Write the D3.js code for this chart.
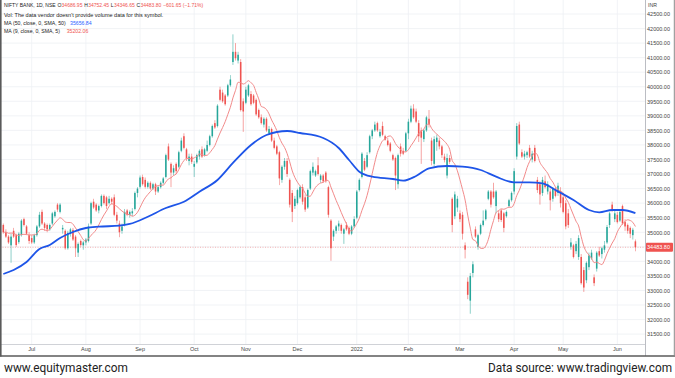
<!DOCTYPE html>
<html><head><meta charset="utf-8">
<script src="https://cdn.jsdelivr.net/npm/d3@7"></script>
<style>
html,body{margin:0;padding:0;background:#fff;}
svg{display:block;}
</style></head>
<body><svg id="chart" width="675" height="378"></svg>
<script>
const dates = [
"2021-06-16","2021-06-17","2021-06-18","2021-06-21","2021-06-22","2021-06-23","2021-06-24","2021-06-25","2021-06-28","2021-06-29","2021-06-30",
"2021-07-01","2021-07-02","2021-07-05","2021-07-06","2021-07-07","2021-07-08","2021-07-09","2021-07-12","2021-07-13","2021-07-14","2021-07-15","2021-07-16","2021-07-19","2021-07-20","2021-07-22","2021-07-23","2021-07-26","2021-07-27","2021-07-28","2021-07-29","2021-07-30",
"2021-08-02","2021-08-03","2021-08-04","2021-08-05","2021-08-06","2021-08-09","2021-08-10","2021-08-11","2021-08-12","2021-08-13","2021-08-16","2021-08-17","2021-08-18","2021-08-20","2021-08-23","2021-08-24","2021-08-25","2021-08-26","2021-08-27","2021-08-30","2021-08-31",
"2021-09-01","2021-09-02","2021-09-03","2021-09-06","2021-09-07","2021-09-08","2021-09-09","2021-09-13","2021-09-14","2021-09-15","2021-09-16","2021-09-17","2021-09-20","2021-09-21","2021-09-22","2021-09-23","2021-09-24","2021-09-27","2021-09-28","2021-09-29","2021-09-30",
"2021-10-01","2021-10-04","2021-10-05","2021-10-06","2021-10-07","2021-10-08","2021-10-11","2021-10-12","2021-10-13","2021-10-14","2021-10-18","2021-10-19","2021-10-20","2021-10-21","2021-10-22","2021-10-25","2021-10-26","2021-10-27","2021-10-28","2021-10-29",
"2021-11-01","2021-11-02","2021-11-03","2021-11-04","2021-11-08","2021-11-09","2021-11-10","2021-11-11","2021-11-12","2021-11-15","2021-11-16","2021-11-17","2021-11-18","2021-11-22","2021-11-23","2021-11-24","2021-11-25","2021-11-26","2021-11-29","2021-11-30",
"2021-12-01","2021-12-02","2021-12-03","2021-12-06","2021-12-07","2021-12-08","2021-12-09","2021-12-10","2021-12-13","2021-12-14","2021-12-15","2021-12-16","2021-12-17","2021-12-20","2021-12-21","2021-12-22","2021-12-23","2021-12-24","2021-12-27","2021-12-28","2021-12-29","2021-12-30","2021-12-31",
"2022-01-03","2022-01-04","2022-01-05","2022-01-06","2022-01-07","2022-01-10","2022-01-11","2022-01-12","2022-01-13","2022-01-14","2022-01-17","2022-01-18","2022-01-19","2022-01-20","2022-01-21","2022-01-24","2022-01-25","2022-01-27","2022-01-28","2022-01-31",
"2022-02-01","2022-02-02","2022-02-03","2022-02-04","2022-02-07","2022-02-08","2022-02-09","2022-02-10","2022-02-11","2022-02-14","2022-02-15","2022-02-16","2022-02-17","2022-02-18","2022-02-21","2022-02-22","2022-02-23","2022-02-24","2022-02-25","2022-02-28",
"2022-03-02","2022-03-03","2022-03-04","2022-03-07","2022-03-08","2022-03-09","2022-03-10","2022-03-11","2022-03-14","2022-03-15","2022-03-16","2022-03-17","2022-03-21","2022-03-22","2022-03-23","2022-03-24","2022-03-25","2022-03-28","2022-03-29","2022-03-30","2022-03-31",
"2022-04-01","2022-04-04","2022-04-05","2022-04-06","2022-04-07","2022-04-08","2022-04-11","2022-04-12","2022-04-13","2022-04-18","2022-04-19","2022-04-20","2022-04-21","2022-04-22","2022-04-25","2022-04-26","2022-04-27","2022-04-28","2022-04-29",
"2022-05-02","2022-05-04","2022-05-05","2022-05-06","2022-05-09","2022-05-10","2022-05-11","2022-05-12","2022-05-13","2022-05-16","2022-05-17","2022-05-18","2022-05-19","2022-05-20","2022-05-23","2022-05-24","2022-05-25","2022-05-26","2022-05-27","2022-05-30","2022-05-31",
"2022-06-01","2022-06-02","2022-06-03","2022-06-06","2022-06-07","2022-06-08","2022-06-09","2022-06-10"];

const open = [
35250,35000,34850,34550,35050,34900,34660,34900,35450,35200,34900,
34800,34650,34900,35200,35700,35300,35250,35100,35300,35550,35950,35700,35100,35050,34450,34950,35080,34850,34300,34700,34550,
34650,34700,35300,36050,35950,35750,35900,36250,36200,36000,36150,36200,35600,35300,35050,35250,35750,35600,35650,35800,36350,
36560,36900,36800,36560,36700,36500,36650,36400,36550,36700,36900,37950,37350,37050,37350,37250,37800,38300,37850,37450,37600,
37250,37400,37600,37850,37650,37800,38000,38300,38750,38650,39900,39800,39700,39700,40050,40850,41200,40900,40850,39500,
39450,39700,39750,39700,39550,39200,38950,38700,38900,38400,38550,38150,37950,37750,36800,37250,37450,36800,36350,35900,
36000,36200,36550,36200,35850,36500,37050,36950,37300,36800,36950,37050,36550,35400,34850,35050,35200,35250,34950,35250,35150,34950,35200,
35500,36450,36900,37450,37250,37750,38300,38500,38750,38300,38650,38300,38150,38050,37650,37550,36650,37950,37800,37800,
38400,38800,39250,39150,38750,38500,38200,38500,38900,38150,37350,38100,38150,37950,37600,36950,37550,36150,35550,35850,
35650,35600,34550,33300,32650,33600,35100,34500,34950,35250,35450,36150,36400,36400,35900,35650,35750,35650,35550,35900,36100,
36400,37600,38700,37750,37600,37650,37900,37500,37900,36800,36650,36350,36750,36400,36400,36150,36500,36350,36400,
36200,36000,35650,34500,34550,34350,34150,34150,33700,33350,33800,34100,33450,33750,34350,34250,34400,34650,35250,35950,35450,
35600,35400,35900,35350,35250,35150,34900,34686.95];

const high = [
35300,35100,34900,34950,35150,34950,35000,35450,35500,35250,35000,
34900,34950,35250,35700,35780,35350,35300,35300,35700,35750,36000,36000,35250,35100,35050,35150,35150,34900,34650,34750,34700,
34800,35300,36050,36150,36000,35950,36300,36300,36250,36250,36200,36300,35700,35400,35300,35800,35800,35750,35830,36400,36550,
36950,36980,36880,36750,36750,36700,36700,36600,36750,36900,37700,38050,37400,37300,37400,37800,38250,38400,37900,37700,37700,
37450,37700,37850,37950,37900,38150,38350,38700,38850,39400,40000,39900,39750,40100,40400,41800,41500,41200,40950,39600,
40000,40100,39850,39750,39600,39250,39050,38950,38950,38650,38600,38250,38000,37800,37300,37550,37550,36850,36450,36250,
36500,36600,36650,36300,36500,37150,37400,37150,37580,37000,37000,37100,36600,35450,35100,35250,35400,35300,35150,35350,35200,35250,35550,
36450,36850,37750,37550,37750,38350,38550,38800,38800,38550,38800,38350,38250,38100,37700,37600,37700,38050,37900,38450,
38900,39350,39400,39250,38850,38600,38550,39000,39200,38250,38300,38350,38250,38000,37700,37700,37650,36200,36400,36250,
35750,35700,34650,33450,33600,34000,35200,34950,35300,35750,35800,36450,36450,36700,36450,35750,35800,35700,35750,36150,36400,
37200,38750,38800,37850,37800,37800,38000,37800,38000,36900,36750,36900,36950,36750,36500,36550,36550,36700,36550,
36300,36100,35800,34800,34600,34700,34900,34250,33800,34000,34300,34400,33550,34350,34500,34500,34700,35250,35700,36050,35750,
35700,35750,35950,35450,35300,35200,35150,34752.45];

const low = [
34950,34800,34600,33950,34800,34500,34600,34850,35200,34900,34600,
34600,34600,34850,35150,35250,35050,35000,35050,35250,35500,35700,35650,34950,34400,34400,34850,34700,34150,34150,34500,34400,
34550,34650,35250,35800,35700,35650,35850,35950,35800,35950,35950,35550,35300,34830,34950,35200,35550,35500,35550,35750,36200,
36500,36600,36500,36500,36450,36450,36280,36350,36500,36650,36850,37450,36550,36950,37000,37200,37750,37850,37450,37300,37350,
36900,37350,37500,37550,37600,37750,37950,38250,38550,38600,39500,39450,39350,39650,40000,40750,40900,40800,39150,38450,
39400,39650,39350,39400,39000,38900,38700,38600,38450,38350,38100,37850,37650,36620,36700,37150,36900,35850,35350,35800,
35950,36150,35950,35700,35800,36450,36950,36900,36950,36700,36700,36700,35500,34020,34700,34950,35050,34950,34600,35050,34900,34900,35150,
35450,36400,36850,37100,37200,37700,38200,38450,38450,38250,38300,38150,37950,37750,37450,36450,36500,37600,37650,37750,
38200,38750,38900,38750,38100,37350,38100,38450,38600,37300,37250,37800,37850,37550,37400,36850,37350,35000,35450,35700,
35350,34750,34100,32700,32200,33450,34800,34400,34900,35200,35400,36100,35850,36150,35650,35350,35350,35000,35500,35850,36050,
36300,37500,38000,37550,37500,37550,37550,37400,37400,36350,35950,36250,36500,36300,35750,36050,36200,36250,35850,
35650,35100,35150,34400,34100,34250,34050,33200,32950,33250,33700,34050,33150,33650,34150,34100,34300,34600,35150,35700,35350,
35300,35350,35250,35050,34950,34800,34750,34346.65];

const close = [
35000,34850,34650,34850,34850,34560,34950,35400,35250,34950,34700,
34650,34900,35200,35600,35300,35150,35100,35250,35650,35700,35780,35950,35150,34450,34980,35100,34750,34450,34600,34560,34650,
34750,35200,36000,35850,35750,35900,36250,36000,35900,36150,36050,35600,35400,35000,35200,35700,35600,35700,35720,36350,36500,
36880,36650,36560,36700,36500,36650,36400,36550,36700,36850,37650,37500,37050,37200,37100,37750,38150,37900,37550,37600,37420,
37350,37650,37800,37600,37850,38000,38300,38650,38600,39350,39550,39500,39400,40050,40250,41200,40980,41100,39200,39150,
39900,40050,39400,39450,39050,38950,38750,38900,38500,38550,38150,37900,37700,36850,37250,37450,37000,35950,35700,36150,
36450,36550,36050,35780,36450,37100,37250,37100,37000,36950,36750,36750,35600,34450,35050,35200,35300,35050,35100,35100,34950,35200,35450,
36400,36800,37700,37150,37650,38300,38500,38700,38500,38450,38350,38180,38000,37800,37500,36950,37650,37700,37700,38400,
38800,39250,38950,38800,38300,38250,38500,38950,38700,37450,38200,38250,37950,37650,37480,37550,37420,35250,36300,36150,
35450,34950,34400,32850,33500,33900,34850,34900,35250,35400,35750,36400,35950,36200,36400,35450,35420,35150,35700,36100,36350,
37100,38650,38050,37600,37700,37750,37600,37700,37450,36450,36300,36800,36550,36650,36100,36500,36250,36600,36000,
35700,35200,35250,34650,34150,34600,34800,33250,33100,33950,34200,34300,33250,34300,34200,34450,34550,35180,35650,35780,35650,
35350,35700,35300,35200,35050,34950,35085.45,34483.80];

// closes of the 8 sessions before the first visible candle (for the 9-day SMA)
const priorCloses = [34700,35000,34800,34900,35050,35150,35100,35200];

// 50-day SMA
const ma50Dates = ["2021-06-16","2021-06-22","2021-06-29","2021-07-06","2021-07-12","2021-07-16","2021-07-26","2021-08-02","2021-08-09","2021-08-20","2021-08-26","2021-09-06","2021-09-16","2021-09-27","2021-10-05","2021-10-14","2021-10-25","2021-11-03","2021-11-12","2021-11-25","2021-12-02","2021-12-15","2021-12-23","2021-12-29","2022-01-04","2022-01-11","2022-01-21","2022-01-28","2022-02-04","2022-02-11","2022-02-22","2022-03-03","2022-03-14","2022-03-23","2022-04-01","2022-04-11","2022-04-20","2022-04-27","2022-05-09","2022-05-17","2022-05-23","2022-05-30","2022-06-03","2022-06-10"];
const ma50Values = [33566,33703,33978,34424,34562,34803,35009,35146,35191,35225,35284,35534,35833,36050,36394,36796,37380,37998,38342,38479,38411,38239,37895,37483,37081,36909,36830,36772,36933,37198,37277,37253,37139,36909,36717,36717,36682,36452,36108,35765,35686,35765,35765,35656.84];

const priceTicks = [31500,32000,32500,33000,33500,34000,34500,35000,35500,36000,36500,37000,37500,38000,38500,39000,39500,40000,40500,41000,41500,42000,42500];
const monthTickDates = ["2021-07-01","2021-08-02","2021-09-01","2021-10-01","2021-11-01","2021-12-01","2022-01-03","2022-02-01","2022-03-02","2022-04-01","2022-05-02","2022-06-01"];
const monthTickLabels = ["Jul","Aug","Sep","Oct","Nov","Dec","2022","Feb","Mar","Apr","May","Jun"];

const legendTitle = "NIFTY BANK, 1D, NSE";
const ohlcKeys = ["O","H","L","C"];
const ohlcLast = ["34686.95","34752.45","34346.65","34483.80"];
const lastChange = "\u2212601.65 (\u22121.71%)";
const ma50Last = "35656.84";
const ma9Last = "35202.06";

// ---------------- drawing ----------------
const W = 675, H = 378;
const plotRight = 645, plotBottom = 344;
const UP = "#26a69a", DOWN = "#ef5350";
const FONT = "'Liberation Sans', Arial, sans-serif";

const svg = d3.select("#chart");
svg.append("rect").attr("width", W).attr("height", H).attr("fill", "#fff");

const x = d3.scaleBand().domain(dates).range([2.546, 636.17]).paddingInner(0.4).paddingOuter(0);
const cx = d => x(d) + x.bandwidth() / 2;
const y = d3.scaleLinear().domain([31500, 42500]).range([334.1, 14]);

// grid
const grid = svg.append("g");
grid.selectAll("line.h").data(priceTicks).join("line")
  .attr("x1", 0).attr("x2", plotRight).attr("y1", d => y(d)).attr("y2", d => y(d))
  .attr("stroke", "#eef0f4").attr("stroke-width", 0.8);
grid.selectAll("line.v").data(monthTickDates).join("line")
  .attr("x1", d => cx(d)).attr("x2", d => cx(d)).attr("y1", 0).attr("y2", plotBottom)
  .attr("stroke", "#eef0f4").attr("stroke-width", 0.8);

svg.append("clipPath").attr("id", "clip").append("rect")
  .attr("x", 0).attr("y", 0).attr("width", plotRight).attr("height", plotBottom);
const plot = svg.append("g").attr("clip-path", "url(#clip)");

// last price dotted line
plot.append("line").attr("x1", 0).attr("x2", plotRight)
  .attr("y1", y(close[close.length - 1])).attr("y2", y(close[close.length - 1]))
  .attr("stroke", DOWN).attr("stroke-width", 0.7).attr("stroke-dasharray", "1,1.5").attr("opacity", 0.6);

// candles
const candles = dates.map((d, i) => ({d, o: open[i], h: high[i], l: low[i], c: close[i]}));
const cg = plot.append("g");
cg.selectAll("line").data(candles).join("line")
  .attr("x1", d => cx(d.d)).attr("x2", d => cx(d.d))
  .attr("y1", d => y(d.h)).attr("y2", d => y(d.l))
  .attr("stroke", d => d.c >= d.o ? UP : DOWN).attr("stroke-width", 0.7).attr("opacity", 0.75);
cg.selectAll("rect").data(candles).join("rect")
  .attr("x", d => x(d.d)).attr("width", x.bandwidth())
  .attr("y", d => Math.min(y(d.o), y(d.c)))
  .attr("height", d => Math.max(0.8, Math.abs(y(d.o) - y(d.c))))
  .attr("fill", d => d.c >= d.o ? UP : DOWN);

// 9-day SMA from closes
const allCloses = priorCloses.concat(close);
const ma9 = dates.map((d, i) => ({d, v: d3.mean(allCloses.slice(i, i + 9))}));
plot.append("path").datum(ma9)
  .attr("fill", "none").attr("stroke", "#f28a8a").attr("stroke-width", 1)
  .attr("d", d3.line().x(p => cx(p.d)).y(p => y(p.v)).curve(d3.curveMonotoneX));

// 50-day SMA
const ma50 = ma50Dates.map((d, i) => ({d, v: ma50Values[i]}));
plot.append("path").datum(ma50)
  .attr("fill", "none").attr("stroke", "#1e55e8").attr("stroke-width", 1.8)
  .attr("d", d3.line().x(p => cx(p.d)).y(p => y(p.v)).curve(d3.curveMonotoneX));

// axes separators & frame
svg.append("line").attr("x1", plotRight + 0.5).attr("x2", plotRight + 0.5).attr("y1", 0).attr("y2", 356)
  .attr("stroke", "#a9acb4").attr("stroke-width", 0.8);
svg.append("line").attr("x1", 0).attr("x2", plotRight).attr("y1", plotBottom + 0.5).attr("y2", plotBottom + 0.5)
  .attr("stroke", "#c4c7cd").attr("stroke-width", 0.8);
svg.append("line").attr("x1", 0.8).attr("x2", 0.8).attr("y1", 0).attr("y2", 356.5)
  .attr("stroke", "#5a5a5a").attr("stroke-width", 1.6);
svg.append("line").attr("x1", 0).attr("x2", W).attr("y1", 356).attr("y2", 356)
  .attr("stroke", "#5a5a5a").attr("stroke-width", 1.6);
svg.append("line").attr("x1", 674.3).attr("x2", 674.3).attr("y1", 0).attr("y2", 356.5)
  .attr("stroke", "#8a8a8a").attr("stroke-width", 1);

// right price axis
const yAxis = svg.append("g").attr("transform", `translate(${plotRight},0)`)
  .call(d3.axisRight(y).tickValues(priceTicks).tickFormat(d3.format(".2f")).tickSize(0));
yAxis.select(".domain").remove();
yAxis.selectAll("text").attr("x", 25).attr("text-anchor", "end")
  .attr("font-family", FONT).attr("font-size", 5.5).attr("fill", "#444");
svg.append("text").attr("x", 648).attr("y", 7).text("INR")
  .attr("font-family", FONT).attr("font-size", 5.2).attr("fill", "#444");

// last price label
const lp = close[close.length - 1];
svg.append("rect").attr("x", 646).attr("y", y(lp) - 4.4).attr("width", 27).attr("height", 8.8)
  .attr("fill", DOWN).attr("rx", 0.8);
svg.append("text").attr("x", 670).attr("y", y(lp)).attr("dy", "0.35em").attr("text-anchor", "end")
  .text(d3.format(".2f")(lp)).attr("font-family", FONT).attr("font-size", 5.5).attr("fill", "#fff");

// bottom time axis
const xAxis = svg.append("g").attr("transform", `translate(0,${plotBottom})`)
  .call(d3.axisBottom(x).tickValues(monthTickDates).tickFormat((d, i) => monthTickLabels[i]).tickSize(0).tickPadding(3.4));
xAxis.select(".domain").remove();
xAxis.selectAll("text").attr("font-family", FONT).attr("font-size", 5.5).attr("fill", "#444");

// legend — line 1 laid out from measured widths so segments never overlap
const lg = svg.append("g").attr("font-family", FONT);
let cursor = 4;
const put = (txt, fill, gap) => {
  const t = lg.append("text").attr("x", cursor).attr("y", 7.4).attr("font-size", 5).attr("fill", fill).text(txt);
  cursor += t.node().getComputedTextLength() + gap;
};
put(legendTitle, "#222", 1.8);
ohlcKeys.forEach((k, i) => { put(k, "#222", 0.3); put(ohlcLast[i], DOWN, 1.8); });
put(lastChange, DOWN, 0);

lg.append("text").attr("x", 4).attr("y", 16.8).attr("font-size", 5.5).attr("fill", "#222")
  .text("Vol: The data vendor doesn't provide volume data for this symbol.");
lg.append("text").attr("x", 4).attr("y", 24.9).attr("font-size", 5.2).attr("fill", "#222").text("MA (50, close, 0, SMA, 50)");
lg.append("text").attr("x", 70).attr("y", 24.9).attr("font-size", 5.2).attr("fill", "#2962ff").text(ma50Last);
lg.append("text").attr("x", 4).attr("y", 33.2).attr("font-size", 5.2).attr("fill", "#222").text("MA (9, close, 0, SMA, 5)");
lg.append("text").attr("x", 66.7).attr("y", 33.2).attr("font-size", 5.2).attr("fill", DOWN).text(ma9Last);

// footer
const footFont = "Roboto, 'Liberation Sans', Arial, sans-serif";
svg.append("text").attr("x", 4).attr("y", 371.5).attr("textLength", 124).attr("lengthAdjust", "spacingAndGlyphs")
  .attr("font-family", footFont).attr("font-size", 12).attr("fill", "#222")
  .text("www.equitymaster.com");
svg.append("text").attr("x", 488).attr("y", 371.5).attr("textLength", 184).attr("lengthAdjust", "spacingAndGlyphs")
  .attr("font-family", footFont).attr("font-size", 12).attr("fill", "#222")
  .text("Data source: www.tradingview.com");
</script>
</body></html>
